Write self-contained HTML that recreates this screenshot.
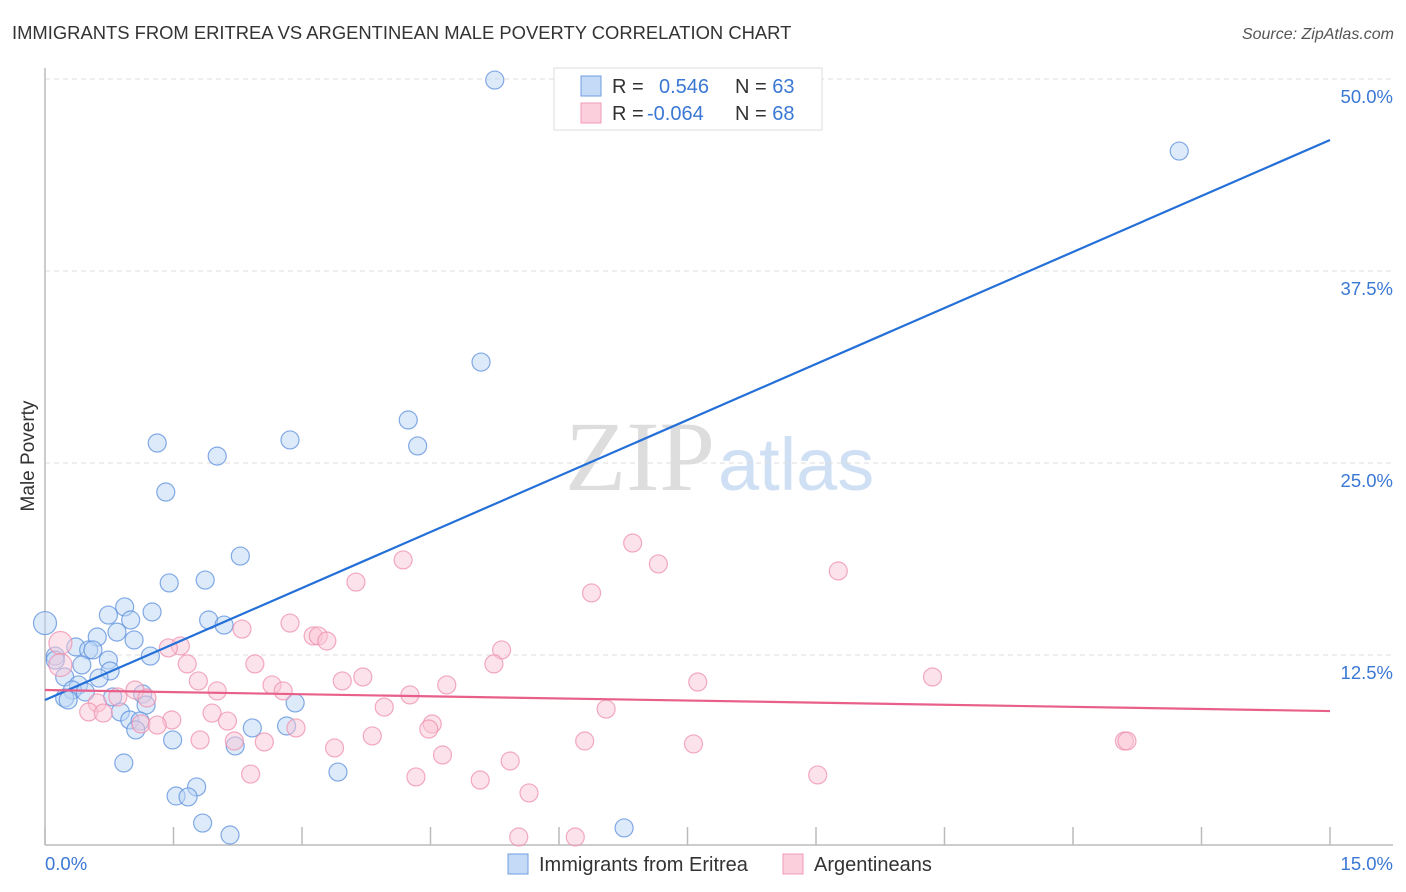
<!DOCTYPE html>
<html><head><meta charset="utf-8"><style>
body{margin:0;background:#fff;font-family:"Liberation Sans",sans-serif}
svg{display:block}
</style></head><body>
<svg width="1406" height="892" xmlns="http://www.w3.org/2000/svg">
<text x="12" y="39" font-size="18.4" fill="#333">IMMIGRANTS FROM ERITREA VS ARGENTINEAN MALE POVERTY CORRELATION CHART</text>
<text x="1394" y="39" font-size="16" fill="#555" font-style="italic" text-anchor="end">Source: ZipAtlas.com</text>
<text x="715" y="490" font-size="100" fill="#ddd" font-family="Liberation Serif,serif" text-anchor="end">ZIP</text>
<text x="718" y="490" font-size="74" fill="#cfe0f5">atlas</text>
<g id="grid"></g>
<g id="axes"></g>
<g id="pts"></g>
<g id="lines"></g>
<text transform="translate(34,456) rotate(-90)" font-size="19" fill="#333" text-anchor="middle">Male Poverty</text>
<text x="45" y="870" font-size="18.5" fill="#3a78d4">0.0%</text>
<text x="1393" y="870" font-size="18.5" fill="#3a78d4" text-anchor="end">15.0%</text>
<g>
<rect x="554" y="68" width="268" height="62" fill="#fff" stroke="#ddd"/>
<rect x="581" y="76" width="20" height="20" fill="#c5daf7" stroke="#6f9ee0"/>
<rect x="581" y="103" width="20" height="20" fill="#fbd0dc" stroke="#f09ab4"/>
<text x="612" y="93" font-size="20" fill="#333">R = <tspan fill="#3a78d4" x="659">0.546</tspan><tspan x="735">N = </tspan><tspan fill="#3a78d4">63</tspan></text>
<text x="612" y="120" font-size="20" fill="#333">R = <tspan fill="#3a78d4" x="647">-0.064</tspan><tspan x="735">N = </tspan><tspan fill="#3a78d4">68</tspan></text>
</g>
<g>
<rect x="508" y="854" width="20" height="20" fill="#c5daf7" stroke="#6f9ee0"/>
<text x="539" y="871" font-size="20" fill="#333">Immigrants from Eritrea</text>
<rect x="783" y="854" width="20" height="20" fill="#fbd0dc" stroke="#f09ab4"/>
<text x="814" y="871" font-size="20" fill="#333">Argentineans</text>
</g>
</svg>
<script>
const yTicks=[12.5,25,37.5,50];
const yTickLabels=["12.5%","25.0%","37.5%","50.0%"];
const xTicks=[0,1.5,3,4.5,6,7.5,9,10.5,12,13.5,15];
const blueX=[5.25,13.24,5.09,4.24,4.35,2.86,1.31,2.01,1.41,2.28,1.45,1.87,0.93,1.25,0.74,1.0,1.91,2.09,0,0.61,0.84,1.04,0.36,0.51,0.56,1.23,0.12,0.12,0.74,0.43,0.76,0.23,0.63,0.39,0.32,0.47,0.23,0.27,1.14,0.79,1.18,0.88,0.99,1.11,1.06,2.92,2.42,2.82,1.49,2.22,0.92,3.42,1.77,1.53,1.67,1.84,2.16,6.76];
const blueY=[49.93,45.31,31.57,27.8,26.11,26.5,26.3,25.45,23.11,18.94,17.19,17.38,15.63,15.3,15.1,14.78,14.78,14.45,14.58,13.67,13.99,13.48,13.02,12.83,12.83,12.43,12.43,12.17,12.17,11.85,11.46,11.07,11.0,10.55,10.22,10.09,9.7,9.57,9.96,9.77,9.24,8.79,8.27,8.2,7.62,9.38,7.75,7.88,6.97,6.58,5.47,4.88,3.91,3.32,3.26,1.56,0.78,1.24];
const pinkX=[6.86,7.16,9.26,4.18,3.63,6.38,2.86,2.3,3.13,3.19,3.29,1.58,1.44,5.33,0.18,0.18,1.66,2.45,5.24,3.71,3.47,10.36,7.62,1.79,4.69,2.65,2.78,4.26,2.01,1.05,0.85,1.19,0.61,3.96,6.55,0.51,0.68,1.95,1.48,2.13,1.12,1.31,2.93,4.52,4.48,1.81,2.21,2.56,3.82,6.3,7.57,12.6,12.63,3.38,4.64,5.43,2.4,4.33,5.08,9.02,5.65,5.53,6.19];
const pinkY=[19.79,18.43,17.97,18.69,17.25,16.54,14.58,14.19,13.74,13.74,13.41,13.09,12.96,12.83,13.28,11.85,11.92,11.92,11.92,11.07,10.81,11.07,10.74,10.81,10.55,10.55,10.16,9.9,10.16,10.22,9.77,9.7,9.38,9.11,8.98,8.79,8.72,8.72,8.27,8.2,8.01,7.94,7.75,8.01,7.68,6.97,6.9,6.84,7.23,6.9,6.71,6.9,6.9,6.45,5.99,5.6,4.75,4.56,4.36,4.69,3.52,0.65,0.65];
const blueTrend=[9.57,46.03];
const pinkTrend=[10.22,8.85];
const X=v=>45+v/15*1285, Y=v=>847-v/12.5*192;
const NS="http://www.w3.org/2000/svg";
function mk(t,a,p){const e=document.createElementNS(NS,t);for(const k in a)e.setAttribute(k,a[k]);p.appendChild(e);return e;}
const grid=document.getElementById('grid'),axes=document.getElementById('axes'),pts=document.getElementById('pts'),lines=document.getElementById('lines');
yTicks.forEach((t,i)=>{
 const l=mk('line',{x1:45,x2:1393,y1:Y(t),y2:Y(t),stroke:'#ddd','stroke-dasharray':'5,4'},grid);
 
 
 const tx=mk('text',{x:1393,y:Y(t)+24,'font-size':18.5,fill:'#3a78d4','text-anchor':'end'},grid);
 tx.textContent=yTickLabels[i];
 
 
});
const ya=mk('line',{x1:45,x2:45,y1:68,y2:845,stroke:'#bbb','stroke-width':1.5},axes);


const xa=mk('line',{x1:45,x2:1393,y1:845,y2:845,stroke:'#bbb','stroke-width':1.5},axes);


xTicks.forEach(t=>{
 const l=mk('line',{x1:X(t),x2:X(t),y1:827,y2:845,stroke:'#bbb','stroke-width':1.5},axes);
 
 
});
function dots(xs,ys,fill,stroke,name){
 xs.forEach((x,i)=>{
  const r=(x===0||x===0.18)?11.5:9;
  const c=mk('circle',{cx:X(x),cy:Y(ys[i]),r:r,fill:fill,'fill-opacity':0.5,stroke:stroke,'stroke-opacity':0.75,'stroke-width':1.2},pts);
  
  
 });
}
dots(blueX,blueY,'#bcd5f5','#5b8fdc','eritrea-point');
dots(pinkX,pinkY,'#f9c6d5','#ee8fae','argentinean-point');
const bl=mk('line',{x1:X(0),y1:Y(blueTrend[0]),x2:X(15),y2:Y(blueTrend[1]),stroke:'#2470d8','stroke-width':2.2},lines);


const pl=mk('line',{x1:X(0),y1:Y(pinkTrend[0]),x2:X(15),y2:Y(pinkTrend[1]),stroke:'#e8608a','stroke-width':2.2},lines);


</script>
</body></html>
